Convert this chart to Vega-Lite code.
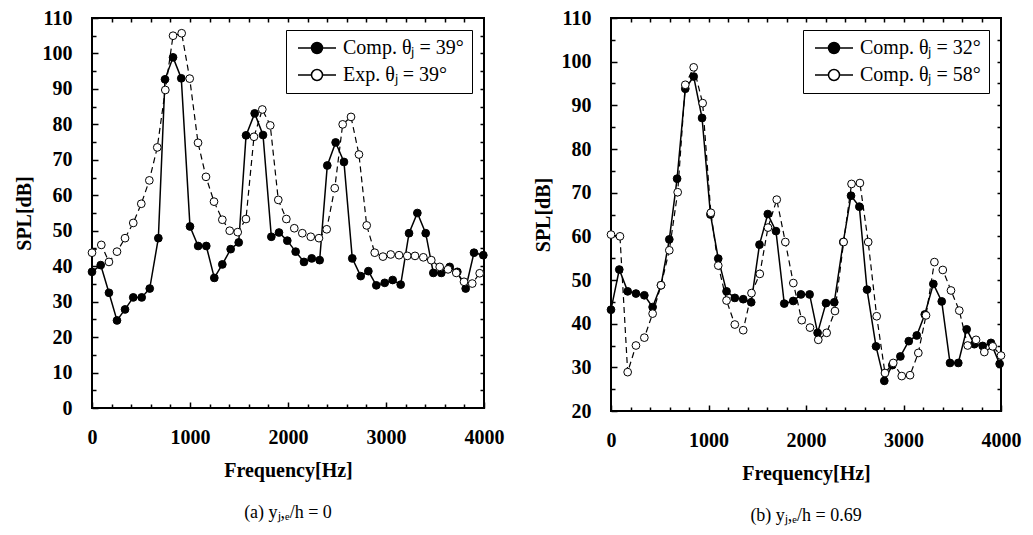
{
  "$schema": "https://vega.github.io/schema/vega-lite/v6.json",
  "padding": {"left": 13, "top": 7, "right": 0, "bottom": 0},
  "background": "white",
  "spacing": 27,
  "config": {
    "view": {"stroke": "black", "strokeWidth": 2},
    "font": "Liberation Serif",
    "axis": {
      "labelFont": "Liberation Serif", "labelFontSize": 20, "labelFontWeight": "bold", "labelColor": "black",
      "titleFont": "Liberation Serif", "titleFontSize": 20, "titleFontWeight": "bold", "titleColor": "black",
      "tickColor": "black", "tickWidth": 1.5, "domain": false, "grid": false, "labelFlush": false, "labelOverlap": false
    },
    "legend": {
      "title": null, "orient": "top-right", "offset": 12, "strokeColor": "black", "fillColor": "white",
      "padding": 8, "labelFont": "Liberation Serif", "labelFontSize": 20, "labelColor": "black",
      "symbolSize": 100, "symbolStrokeColor": "black", "symbolStrokeWidth": 1.5, "symbolOpacity": 1, "rowPadding": 7,
      "labelOffset": 29, "labelLimit": 300
    }
  },
  "resolve": {"scale": {"fill": "independent"}, "legend": {"fill": "independent"}},
  "datasets": {
    "a": [
      {"f": 0, "spl": 38.4, "s": "Comp. θⱼ = 39°"}, {"f": 89, "spl": 40.3, "s": "Comp. θⱼ = 39°"}, {"f": 173, "spl": 32.5, "s": "Comp. θⱼ = 39°"}, {"f": 255, "spl": 24.7, "s": "Comp. θⱼ = 39°"}, {"f": 337, "spl": 27.8, "s": "Comp. θⱼ = 39°"}, {"f": 421, "spl": 31.2, "s": "Comp. θⱼ = 39°"}, {"f": 507, "spl": 31.2, "s": "Comp. θⱼ = 39°"}, {"f": 589, "spl": 33.7, "s": "Comp. θⱼ = 39°"}, {"f": 677, "spl": 47.9, "s": "Comp. θⱼ = 39°"}, {"f": 745, "spl": 92.7, "s": "Comp. θⱼ = 39°"}, {"f": 827, "spl": 98.9, "s": "Comp. θⱼ = 39°"}, {"f": 911, "spl": 93.0, "s": "Comp. θⱼ = 39°"}, {"f": 1000, "spl": 51.2, "s": "Comp. θⱼ = 39°"}, {"f": 1083, "spl": 45.7, "s": "Comp. θⱼ = 39°"}, {"f": 1166, "spl": 45.7, "s": "Comp. θⱼ = 39°"}, {"f": 1248, "spl": 36.7, "s": "Comp. θⱼ = 39°"}, {"f": 1330, "spl": 40.5, "s": "Comp. θⱼ = 39°"}, {"f": 1415, "spl": 44.8, "s": "Comp. θⱼ = 39°"}, {"f": 1497, "spl": 46.7, "s": "Comp. θⱼ = 39°"}, {"f": 1572, "spl": 76.9, "s": "Comp. θⱼ = 39°"}, {"f": 1660, "spl": 83.1, "s": "Comp. θⱼ = 39°"}, {"f": 1745, "spl": 77.0, "s": "Comp. θⱼ = 39°"}, {"f": 1830, "spl": 48.3, "s": "Comp. θⱼ = 39°"}, {"f": 1908, "spl": 49.5, "s": "Comp. θⱼ = 39°"}, {"f": 1993, "spl": 47.2, "s": "Comp. θⱼ = 39°"}, {"f": 2078, "spl": 44.1, "s": "Comp. θⱼ = 39°"}, {"f": 2163, "spl": 41.2, "s": "Comp. θⱼ = 39°"}, {"f": 2242, "spl": 42.2, "s": "Comp. θⱼ = 39°"}, {"f": 2323, "spl": 41.7, "s": "Comp. θⱼ = 39°"}, {"f": 2401, "spl": 68.4, "s": "Comp. θⱼ = 39°"}, {"f": 2486, "spl": 74.9, "s": "Comp. θⱼ = 39°"}, {"f": 2571, "spl": 69.4, "s": "Comp. θⱼ = 39°"}, {"f": 2656, "spl": 42.2, "s": "Comp. θⱼ = 39°"}, {"f": 2742, "spl": 37.2, "s": "Comp. θⱼ = 39°"}, {"f": 2820, "spl": 38.6, "s": "Comp. θⱼ = 39°"}, {"f": 2901, "spl": 34.6, "s": "Comp. θⱼ = 39°"}, {"f": 2987, "spl": 35.3, "s": "Comp. θⱼ = 39°"}, {"f": 3068, "spl": 36.1, "s": "Comp. θⱼ = 39°"}, {"f": 3150, "spl": 34.8, "s": "Comp. θⱼ = 39°"}, {"f": 3235, "spl": 49.3, "s": "Comp. θⱼ = 39°"}, {"f": 3320, "spl": 55.0, "s": "Comp. θⱼ = 39°"}, {"f": 3405, "spl": 49.3, "s": "Comp. θⱼ = 39°"}, {"f": 3483, "spl": 38.1, "s": "Comp. θⱼ = 39°"}, {"f": 3564, "spl": 38.1, "s": "Comp. θⱼ = 39°"}, {"f": 3650, "spl": 39.8, "s": "Comp. θⱼ = 39°"}, {"f": 3728, "spl": 38.4, "s": "Comp. θⱼ = 39°"}, {"f": 3813, "spl": 33.7, "s": "Comp. θⱼ = 39°"}, {"f": 3898, "spl": 43.8, "s": "Comp. θⱼ = 39°"}, {"f": 3993, "spl": 43.1, "s": "Comp. θⱼ = 39°"},
      {"f": 0, "spl": 43.8, "s": "Exp. θⱼ = 39°"}, {"f": 95, "spl": 46.0, "s": "Exp. θⱼ = 39°"}, {"f": 173, "spl": 41.2, "s": "Exp. θⱼ = 39°"}, {"f": 255, "spl": 44.1, "s": "Exp. θⱼ = 39°"}, {"f": 337, "spl": 47.9, "s": "Exp. θⱼ = 39°"}, {"f": 421, "spl": 52.2, "s": "Exp. θⱼ = 39°"}, {"f": 503, "spl": 57.6, "s": "Exp. θⱼ = 39°"}, {"f": 585, "spl": 64.2, "s": "Exp. θⱼ = 39°"}, {"f": 666, "spl": 73.5, "s": "Exp. θⱼ = 39°"}, {"f": 748, "spl": 89.7, "s": "Exp. θⱼ = 39°"}, {"f": 827, "spl": 105.0, "s": "Exp. θⱼ = 39°"}, {"f": 915, "spl": 105.7, "s": "Exp. θⱼ = 39°"}, {"f": 997, "spl": 92.9, "s": "Exp. θⱼ = 39°"}, {"f": 1082, "spl": 74.8, "s": "Exp. θⱼ = 39°"}, {"f": 1163, "spl": 65.2, "s": "Exp. θⱼ = 39°"}, {"f": 1245, "spl": 58.2, "s": "Exp. θⱼ = 39°"}, {"f": 1330, "spl": 53.1, "s": "Exp. θⱼ = 39°"}, {"f": 1405, "spl": 50.0, "s": "Exp. θⱼ = 39°"}, {"f": 1487, "spl": 49.6, "s": "Exp. θⱼ = 39°"}, {"f": 1571, "spl": 53.3, "s": "Exp. θⱼ = 39°"}, {"f": 1653, "spl": 76.5, "s": "Exp. θⱼ = 39°"}, {"f": 1738, "spl": 84.2, "s": "Exp. θⱼ = 39°"}, {"f": 1819, "spl": 79.7, "s": "Exp. θⱼ = 39°"}, {"f": 1901, "spl": 58.7, "s": "Exp. θⱼ = 39°"}, {"f": 1983, "spl": 53.3, "s": "Exp. θⱼ = 39°"}, {"f": 2064, "spl": 50.7, "s": "Exp. θⱼ = 39°"}, {"f": 2146, "spl": 49.3, "s": "Exp. θⱼ = 39°"}, {"f": 2232, "spl": 48.3, "s": "Exp. θⱼ = 39°"}, {"f": 2316, "spl": 47.9, "s": "Exp. θⱼ = 39°"}, {"f": 2395, "spl": 50.4, "s": "Exp. θⱼ = 39°"}, {"f": 2477, "spl": 62.0, "s": "Exp. θⱼ = 39°"}, {"f": 2558, "spl": 80.0, "s": "Exp. θⱼ = 39°"}, {"f": 2643, "spl": 82.1, "s": "Exp. θⱼ = 39°"}, {"f": 2724, "spl": 71.5, "s": "Exp. θⱼ = 39°"}, {"f": 2803, "spl": 51.5, "s": "Exp. θⱼ = 39°"}, {"f": 2885, "spl": 43.8, "s": "Exp. θⱼ = 39°"}, {"f": 2969, "spl": 42.7, "s": "Exp. θⱼ = 39°"}, {"f": 3048, "spl": 43.3, "s": "Exp. θⱼ = 39°"}, {"f": 3133, "spl": 43.1, "s": "Exp. θⱼ = 39°"}, {"f": 3217, "spl": 42.9, "s": "Exp. θⱼ = 39°"}, {"f": 3296, "spl": 42.9, "s": "Exp. θⱼ = 39°"}, {"f": 3381, "spl": 42.5, "s": "Exp. θⱼ = 39°"}, {"f": 3462, "spl": 41.7, "s": "Exp. θⱼ = 39°"}, {"f": 3548, "spl": 39.8, "s": "Exp. θⱼ = 39°"}, {"f": 3633, "spl": 39.1, "s": "Exp. θⱼ = 39°"}, {"f": 3717, "spl": 38.1, "s": "Exp. θⱼ = 39°"}, {"f": 3796, "spl": 35.6, "s": "Exp. θⱼ = 39°"}, {"f": 3880, "spl": 35.1, "s": "Exp. θⱼ = 39°"}, {"f": 3956, "spl": 38.0, "s": "Exp. θⱼ = 39°"}
    ],
    "b": [
      {"f": 0, "spl": 43.2, "s": "Comp. θⱼ = 32°"}, {"f": 85, "spl": 52.4, "s": "Comp. θⱼ = 32°"}, {"f": 171, "spl": 47.4, "s": "Comp. θⱼ = 32°"}, {"f": 256, "spl": 46.9, "s": "Comp. θⱼ = 32°"}, {"f": 342, "spl": 46.5, "s": "Comp. θⱼ = 32°"}, {"f": 427, "spl": 43.8, "s": "Comp. θⱼ = 32°"}, {"f": 513, "spl": 48.8, "s": "Comp. θⱼ = 32°"}, {"f": 598, "spl": 59.3, "s": "Comp. θⱼ = 32°"}, {"f": 678, "spl": 73.2, "s": "Comp. θⱼ = 32°"}, {"f": 762, "spl": 93.8, "s": "Comp. θⱼ = 32°"}, {"f": 848, "spl": 96.6, "s": "Comp. θⱼ = 32°"}, {"f": 934, "spl": 87.1, "s": "Comp. θⱼ = 32°"}, {"f": 1020, "spl": 65.0, "s": "Comp. θⱼ = 32°"}, {"f": 1100, "spl": 54.9, "s": "Comp. θⱼ = 32°"}, {"f": 1185, "spl": 47.4, "s": "Comp. θⱼ = 32°"}, {"f": 1270, "spl": 45.9, "s": "Comp. θⱼ = 32°"}, {"f": 1356, "spl": 45.6, "s": "Comp. θⱼ = 32°"}, {"f": 1438, "spl": 44.9, "s": "Comp. θⱼ = 32°"}, {"f": 1523, "spl": 58.1, "s": "Comp. θⱼ = 32°"}, {"f": 1608, "spl": 65.1, "s": "Comp. θⱼ = 32°"}, {"f": 1692, "spl": 61.2, "s": "Comp. θⱼ = 32°"}, {"f": 1777, "spl": 44.6, "s": "Comp. θⱼ = 32°"}, {"f": 1869, "spl": 45.2, "s": "Comp. θⱼ = 32°"}, {"f": 1948, "spl": 46.7, "s": "Comp. θⱼ = 32°"}, {"f": 2037, "spl": 46.7, "s": "Comp. θⱼ = 32°"}, {"f": 2119, "spl": 37.9, "s": "Comp. θⱼ = 32°"}, {"f": 2205, "spl": 44.7, "s": "Comp. θⱼ = 32°"}, {"f": 2290, "spl": 44.9, "s": "Comp. θⱼ = 32°"}, {"f": 2382, "spl": 58.7, "s": "Comp. θⱼ = 32°"}, {"f": 2462, "spl": 69.3, "s": "Comp. θⱼ = 32°"}, {"f": 2547, "spl": 66.8, "s": "Comp. θⱼ = 32°"}, {"f": 2626, "spl": 47.8, "s": "Comp. θⱼ = 32°"}, {"f": 2718, "spl": 34.8, "s": "Comp. θⱼ = 32°"}, {"f": 2803, "spl": 26.9, "s": "Comp. θⱼ = 32°"}, {"f": 2885, "spl": 30.5, "s": "Comp. θⱼ = 32°"}, {"f": 2968, "spl": 32.5, "s": "Comp. θⱼ = 32°"}, {"f": 3054, "spl": 36.0, "s": "Comp. θⱼ = 32°"}, {"f": 3136, "spl": 37.3, "s": "Comp. θⱼ = 32°"}, {"f": 3218, "spl": 42.1, "s": "Comp. θⱼ = 32°"}, {"f": 3306, "spl": 49.1, "s": "Comp. θⱼ = 32°"}, {"f": 3392, "spl": 45.1, "s": "Comp. θⱼ = 32°"}, {"f": 3477, "spl": 31.0, "s": "Comp. θⱼ = 32°"}, {"f": 3562, "spl": 31.0, "s": "Comp. θⱼ = 32°"}, {"f": 3648, "spl": 38.7, "s": "Comp. θⱼ = 32°"}, {"f": 3726, "spl": 35.3, "s": "Comp. θⱼ = 32°"}, {"f": 3812, "spl": 34.9, "s": "Comp. θⱼ = 32°"}, {"f": 3897, "spl": 35.6, "s": "Comp. θⱼ = 32°"}, {"f": 3986, "spl": 30.8, "s": "Comp. θⱼ = 32°"},
      {"f": 0, "spl": 60.4, "s": "Comp. θⱼ = 58°"}, {"f": 92, "spl": 60.0, "s": "Comp. θⱼ = 58°"}, {"f": 171, "spl": 28.9, "s": "Comp. θⱼ = 58°"}, {"f": 256, "spl": 35.0, "s": "Comp. θⱼ = 58°"}, {"f": 342, "spl": 36.8, "s": "Comp. θⱼ = 58°"}, {"f": 427, "spl": 42.3, "s": "Comp. θⱼ = 58°"}, {"f": 513, "spl": 48.8, "s": "Comp. θⱼ = 58°"}, {"f": 598, "spl": 56.8, "s": "Comp. θⱼ = 58°"}, {"f": 684, "spl": 70.1, "s": "Comp. θⱼ = 58°"}, {"f": 762, "spl": 94.7, "s": "Comp. θⱼ = 58°"}, {"f": 848, "spl": 98.7, "s": "Comp. θⱼ = 58°"}, {"f": 940, "spl": 90.5, "s": "Comp. θⱼ = 58°"}, {"f": 1024, "spl": 65.4, "s": "Comp. θⱼ = 58°"}, {"f": 1100, "spl": 53.3, "s": "Comp. θⱼ = 58°"}, {"f": 1185, "spl": 45.3, "s": "Comp. θⱼ = 58°"}, {"f": 1270, "spl": 39.8, "s": "Comp. θⱼ = 58°"}, {"f": 1356, "spl": 38.5, "s": "Comp. θⱼ = 58°"}, {"f": 1441, "spl": 47.0, "s": "Comp. θⱼ = 58°"}, {"f": 1526, "spl": 51.4, "s": "Comp. θⱼ = 58°"}, {"f": 1610, "spl": 62.0, "s": "Comp. θⱼ = 58°"}, {"f": 1700, "spl": 68.4, "s": "Comp. θⱼ = 58°"}, {"f": 1788, "spl": 58.7, "s": "Comp. θⱼ = 58°"}, {"f": 1870, "spl": 49.3, "s": "Comp. θⱼ = 58°"}, {"f": 1956, "spl": 40.8, "s": "Comp. θⱼ = 58°"}, {"f": 2041, "spl": 39.1, "s": "Comp. θⱼ = 58°"}, {"f": 2126, "spl": 36.3, "s": "Comp. θⱼ = 58°"}, {"f": 2212, "spl": 37.9, "s": "Comp. θⱼ = 58°"}, {"f": 2297, "spl": 42.9, "s": "Comp. θⱼ = 58°"}, {"f": 2386, "spl": 58.7, "s": "Comp. θⱼ = 58°"}, {"f": 2467, "spl": 72.0, "s": "Comp. θⱼ = 58°"}, {"f": 2553, "spl": 72.2, "s": "Comp. θⱼ = 58°"}, {"f": 2638, "spl": 58.7, "s": "Comp. θⱼ = 58°"}, {"f": 2725, "spl": 41.7, "s": "Comp. θⱼ = 58°"}, {"f": 2810, "spl": 28.7, "s": "Comp. θⱼ = 58°"}, {"f": 2895, "spl": 31.0, "s": "Comp. θⱼ = 58°"}, {"f": 2982, "spl": 28.0, "s": "Comp. θⱼ = 58°"}, {"f": 3067, "spl": 28.2, "s": "Comp. θⱼ = 58°"}, {"f": 3152, "spl": 33.3, "s": "Comp. θⱼ = 58°"}, {"f": 3231, "spl": 41.9, "s": "Comp. θⱼ = 58°"}, {"f": 3317, "spl": 54.1, "s": "Comp. θⱼ = 58°"}, {"f": 3403, "spl": 52.3, "s": "Comp. θⱼ = 58°"}, {"f": 3487, "spl": 47.6, "s": "Comp. θⱼ = 58°"}, {"f": 3572, "spl": 43.0, "s": "Comp. θⱼ = 58°"}, {"f": 3658, "spl": 35.0, "s": "Comp. θⱼ = 58°"}, {"f": 3744, "spl": 36.3, "s": "Comp. θⱼ = 58°"}, {"f": 3829, "spl": 33.5, "s": "Comp. θⱼ = 58°"}, {"f": 3915, "spl": 34.8, "s": "Comp. θⱼ = 58°"}, {"f": 4000, "spl": 32.7, "s": "Comp. θⱼ = 58°"}
    ]
  },
  "hconcat": [
    {
      "width": 392, "height": 390,
      "data": {"name": "a"},
      "title": {"text": "(a) yⱼ,ₑ/h = 0", "orient": "bottom", "fontSize": 18, "fontWeight": "normal", "font": "Liberation Serif", "color": "black", "offset": 24},
      "resolve": {"axis": {"x": "independent", "y": "independent"}},
      "layer": [
        {
          "transform": [{"filter": {"field": "s", "equal": "Comp. θⱼ = 39°"}}],
          "mark": {"type": "line", "color": "black", "strokeWidth": 1.5},
          "encoding": {
            "x": {"field": "f", "type": "quantitative", "scale": {"domain": [0, 4000], "nice": false},
                  "axis": {"orient": "bottom", "values": [0, 1000, 2000, 3000, 4000], "format": "d", "title": "Frequency[Hz]", "tickSize": -6, "labelPadding": 25, "titlePadding": 13}},
            "y": {"field": "spl", "type": "quantitative", "scale": {"domain": [0, 110], "nice": false},
                  "axis": {"orient": "left", "values": [0, 10, 20, 30, 40, 50, 60, 70, 80, 90, 100, 110], "format": "d", "title": "SPL[dB]", "tickSize": -6, "labelPadding": 26, "titlePadding": 8}}
          }
        },
        {
          "transform": [{"filter": {"field": "s", "equal": "Exp. θⱼ = 39°"}}],
          "mark": {"type": "line", "color": "black", "strokeWidth": 1.2, "strokeDash": [6, 4]},
          "encoding": {
            "x": {"field": "f", "type": "quantitative", "axis": null},
            "y": {"field": "spl", "type": "quantitative", "axis": null}
          }
        },
        {
          "mark": {"type": "point", "filled": true, "size": 60, "stroke": "black", "strokeWidth": 1, "opacity": 1},
          "encoding": {
            "x": {"field": "f", "type": "quantitative",
                  "axis": {"orient": "bottom", "values": [200, 400, 600, 800, 1200, 1400, 1600, 1800, 2200, 2400, 2600, 2800, 3200, 3400, 3600, 3800], "labels": false, "title": null, "tickSize": -4}},
            "y": {"field": "spl", "type": "quantitative",
                  "axis": {"orient": "left", "values": [5, 15, 25, 35, 45, 55, 65, 75, 85, 95, 105], "labels": false, "title": null, "tickSize": -4}},
            "fill": {"field": "s", "type": "nominal", "scale": {"domain": ["Comp. θⱼ = 39°", "Exp. θⱼ = 39°"], "range": ["black", "white"]},
                     "legend": {"symbolType": "M-1.2,0H1.5M3.7,0H6.4M3.7,0A1.1,1.1,0,1,1,1.5,0A1.1,1.1,0,1,1,3.7,0Z"}}
          }
        },
        {
          "mark": {"type": "line", "opacity": 0},
          "encoding": {
            "x": {"field": "f", "type": "quantitative",
                  "axis": {"orient": "top", "values": [200, 400, 600, 800, 1000, 1200, 1400, 1600, 1800, 2000, 2200, 2400, 2600, 2800, 3000, 3200, 3400, 3600, 3800], "labels": false, "title": null, "tickSize": -4}},
            "y": {"field": "spl", "type": "quantitative",
                  "axis": {"orient": "right", "values": [5, 10, 15, 20, 25, 30, 35, 40, 45, 50, 55, 60, 65, 70, 75, 80, 85, 90, 95, 100, 105], "labels": false, "title": null, "tickSize": -4}},
            "detail": {"field": "s"}
          }
        }
      ]
    },
    {
      "width": 390, "height": 393,
      "data": {"name": "b"},
      "title": {"text": "(b) yⱼ,ₑ/h = 0.69", "orient": "bottom", "fontSize": 18, "fontWeight": "normal", "font": "Liberation Serif", "color": "black", "offset": 24},
      "resolve": {"axis": {"x": "independent", "y": "independent"}},
      "layer": [
        {
          "transform": [{"filter": {"field": "s", "equal": "Comp. θⱼ = 32°"}}],
          "mark": {"type": "line", "color": "black", "strokeWidth": 1.5},
          "encoding": {
            "x": {"field": "f", "type": "quantitative", "scale": {"domain": [0, 4000], "nice": false},
                  "axis": {"orient": "bottom", "values": [0, 1000, 2000, 3000, 4000], "format": "d", "title": "Frequency[Hz]", "tickSize": -6, "labelPadding": 25, "titlePadding": 13}},
            "y": {"field": "spl", "type": "quantitative", "scale": {"domain": [20, 110], "nice": false},
                  "axis": {"orient": "left", "values": [20, 30, 40, 50, 60, 70, 80, 90, 100, 110], "format": "d", "title": "SPL[dB]", "tickSize": -6, "labelPadding": 26, "titlePadding": 8}}
          }
        },
        {
          "transform": [{"filter": {"field": "s", "equal": "Comp. θⱼ = 58°"}}],
          "mark": {"type": "line", "color": "black", "strokeWidth": 1.2, "strokeDash": [6, 4]},
          "encoding": {
            "x": {"field": "f", "type": "quantitative", "axis": null},
            "y": {"field": "spl", "type": "quantitative", "axis": null}
          }
        },
        {
          "mark": {"type": "point", "filled": true, "size": 60, "stroke": "black", "strokeWidth": 1, "opacity": 1},
          "encoding": {
            "x": {"field": "f", "type": "quantitative",
                  "axis": {"orient": "bottom", "values": [200, 400, 600, 800, 1200, 1400, 1600, 1800, 2200, 2400, 2600, 2800, 3200, 3400, 3600, 3800], "labels": false, "title": null, "tickSize": -4}},
            "y": {"field": "spl", "type": "quantitative",
                  "axis": {"orient": "left", "values": [25, 35, 45, 55, 65, 75, 85, 95, 105], "labels": false, "title": null, "tickSize": -4}},
            "fill": {"field": "s", "type": "nominal", "scale": {"domain": ["Comp. θⱼ = 32°", "Comp. θⱼ = 58°"], "range": ["black", "white"]},
                     "legend": {"symbolType": "M-1.2,0H1.5M3.7,0H6.4M3.7,0A1.1,1.1,0,1,1,1.5,0A1.1,1.1,0,1,1,3.7,0Z"}}
          }
        },
        {
          "mark": {"type": "line", "opacity": 0},
          "encoding": {
            "x": {"field": "f", "type": "quantitative",
                  "axis": {"orient": "top", "values": [200, 400, 600, 800, 1000, 1200, 1400, 1600, 1800, 2000, 2200, 2400, 2600, 2800, 3000, 3200, 3400, 3600, 3800], "labels": false, "title": null, "tickSize": -4}},
            "y": {"field": "spl", "type": "quantitative",
                  "axis": {"orient": "right", "values": [25, 30, 35, 40, 45, 50, 55, 60, 65, 70, 75, 80, 85, 90, 95, 100, 105], "labels": false, "title": null, "tickSize": -4}},
            "detail": {"field": "s"}
          }
        }
      ]
    }
  ]
}
